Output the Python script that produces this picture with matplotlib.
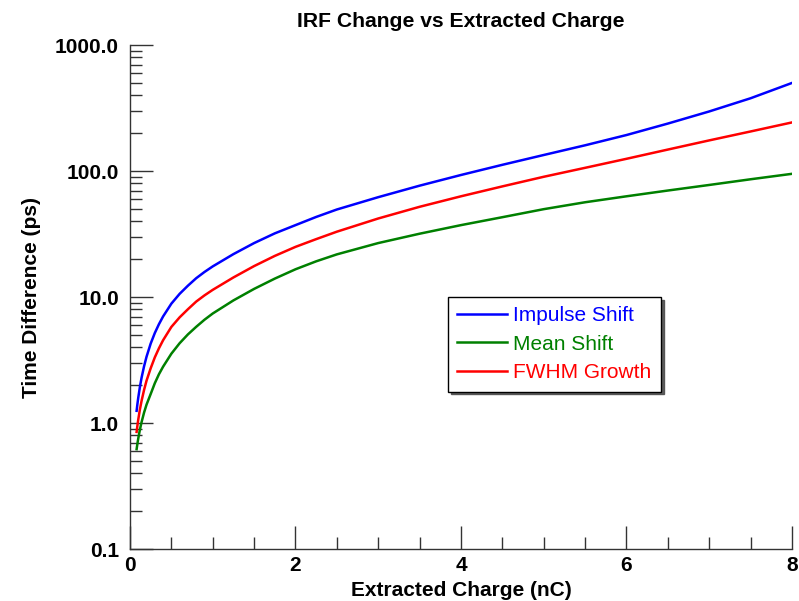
import matplotlib
matplotlib.use("Agg")
import matplotlib.pyplot as plt
from matplotlib.ticker import MultipleLocator, LogLocator, FixedLocator, NullFormatter

plt.rcParams['font.family'] = ['Liberation Sans', 'DejaVu Sans']

charge = [0.08, 0.09, 0.1, 0.12, 0.14, 0.17, 0.2, 0.25, 0.3, 0.35, 0.4, 0.5,
          0.6, 0.7, 0.8, 0.9, 1.0, 1.25, 1.5, 1.75, 2.0, 2.25, 2.5, 3.0,
          3.5, 4.0, 4.5, 5.0, 5.5, 6.0, 6.5, 7.0, 7.5, 8.0]
impulse_shift = [1.25, 1.42, 1.59, 1.94, 2.29, 2.82, 3.36, 4.27, 5.18, 6.09, 7.01, 8.86,
                 10.6, 12.3, 14.1, 15.8, 17.5, 21.9, 26.8, 32.0, 37.2, 43.2, 49.5, 62,
                 76.5, 93, 112, 134, 160, 193, 238, 297, 378, 500]
mean_shift = [0.62, 0.688, 0.755, 0.888, 1.017, 1.21, 1.40, 1.70, 2.07, 2.44, 2.80, 3.55,
              4.3, 5.05, 5.8, 6.6, 7.4, 9.4, 11.6, 14.0, 16.6, 19.2, 21.8, 26.8,
              31.8, 37.2, 43.0, 49.8, 56.5, 63, 70, 77.5, 86, 95]
fwhm_growth = [0.85, 0.958, 1.067, 1.285, 1.50, 1.83, 2.17, 2.72, 3.32, 3.92, 4.54, 5.79,
               6.9, 8.0, 9.2, 10.3, 11.4, 14.3, 17.6, 21.2, 25.0, 28.8, 33, 42,
               52, 63, 75.5, 90, 106, 125, 148, 175, 206, 243]

series_names = ["Impulse Shift", "Mean Shift", "FWHM Growth"]
series_colors = ["#0000ff", "#008000", "#ff0000"]

x_ticks = [0, 2, 4, 6, 8]
y_ticks = [0.1, 1.0, 10.0, 100.0, 1000.0]
y_tick_labels = ["0.1", "1.0", "10.0", "100.0", "1000.0"]

fig = plt.figure(figsize=(7.99, 6.01), dpi=100)
ax = fig.add_axes([0.1627, 0.0865, 0.8285, 0.8386])

for vals, name, col in zip([impulse_shift, mean_shift, fwhm_growth], series_names, series_colors):
    ax.plot(charge, vals, color=col, lw=1.8, label=name)

ax.set_yscale('log')
ax.set_xlim(0, 8)
ax.set_ylim(0.1, 1000)

for s in ['top', 'right']:
    ax.spines[s].set_visible(False)
for s in ['left', 'bottom']:
    ax.spines[s].set_color('0.2')
    ax.spines[s].set_linewidth(1.0)

ax.xaxis.set_major_locator(FixedLocator(x_ticks))
ax.xaxis.set_minor_locator(MultipleLocator(0.5))
ax.set_xticklabels([str(t) for t in x_ticks])
ax.yaxis.set_major_locator(FixedLocator(y_ticks))
ax.set_yticklabels(y_tick_labels)
ax.yaxis.set_minor_locator(LogLocator(base=10, subs=range(2, 10), numticks=20))
ax.yaxis.set_minor_formatter(NullFormatter())

ax.tick_params(which='major', direction='in', length=16.5, width=1.0, color='0.2',
               labelsize=15)
ax.tick_params(which='minor', direction='in', length=8.5, width=1.0, color='0.2')
ax.tick_params(axis='y', which='major', pad=8)
ax.tick_params(axis='x', which='major', pad=5)
for lbl in ax.get_xticklabels() + ax.get_yticklabels():
    lbl.set_fontweight('bold')

ax.set_xlabel("Extracted Charge (nC)", fontsize=15, fontweight='bold', labelpad=4)
ax.set_ylabel("Time Difference (ps)", fontsize=15, fontweight='bold', labelpad=10)
ax.set_title("IRF Change vs Extracted Charge", fontsize=15.2, fontweight='bold', pad=13)

leg = ax.legend(loc='upper left', bbox_to_anchor=(0.48, 0.5), borderaxespad=0,
                fontsize=15, frameon=True, fancybox=False, edgecolor='black',
                shadow={'color': '0.3', 'alpha': 0.9}, handlelength=2.4,
                labelspacing=0.45, handletextpad=0.3, borderpad=0.45)
leg.get_frame().set_linewidth(1.0)
for txt, col in zip(leg.get_texts(), series_colors):
    txt.set_color(col)

fig.savefig("out.png", dpi=100)
